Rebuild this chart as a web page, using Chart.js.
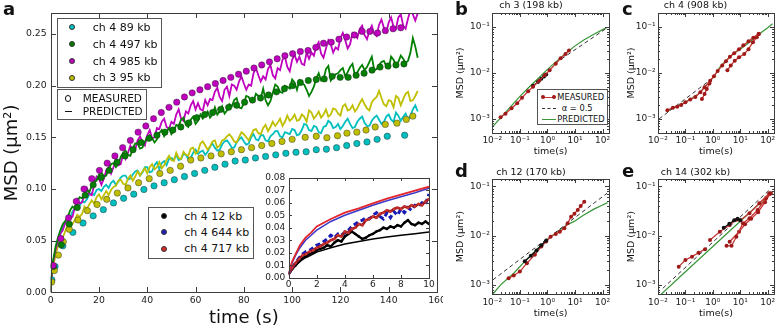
<!DOCTYPE html>
<html><head><meta charset="utf-8">
<script src="https://cdn.jsdelivr.net/npm/chart.js@4.4.1/dist/chart.umd.min.js"></script>
<style>
html,body{margin:0;padding:0;background:#fff;}
body{width:778px;height:328px;position:relative;overflow:hidden;font-family:"DejaVu Sans",sans-serif;color:#111;}
canvas{position:absolute;}
.box{position:absolute;border:1px solid #555;background:#fff;box-sizing:border-box;}
.t{position:absolute;white-space:nowrap;line-height:1;}
.dot{position:absolute;border-radius:50%;box-sizing:border-box;border:0.6px solid #333;}
.ln{position:absolute;height:0;}
.pl{position:absolute;font-weight:bold;font-size:18px;line-height:18px;}
</style></head><body>
<canvas id="cA" width="443" height="328" style="left:0;top:0"></canvas>
<canvas id="cIn" width="178" height="122" style="left:258px;top:170px"></canvas>
<canvas id="cB" width="161" height="160" style="left:452px;top:0"></canvas>
<canvas id="cC" width="161" height="160" style="left:617px;top:0"></canvas>
<canvas id="cD" width="161" height="168" style="left:452px;top:160px"></canvas>
<canvas id="cE" width="161" height="168" style="left:617px;top:160px"></canvas>

<div class="pl" style="left:3px;top:0">a</div>
<div class="pl" style="left:455px;top:0">b</div>
<div class="pl" style="left:622px;top:0">c</div>
<div class="pl" style="left:455px;top:162px">d</div>
<div class="pl" style="left:622px;top:162px">e</div>

<!-- legend 1 -->
<div class="box" style="left:56.7px;top:17.5px;width:105.6px;height:70px"></div>
<div class="dot" style="left:68.7px;top:24.3px;width:6px;height:6px;background:#00bfbf"></div>
<div class="dot" style="left:68.7px;top:41px;width:6px;height:6px;background:#008000"></div>
<div class="dot" style="left:68.7px;top:58px;width:6px;height:6px;background:#bf00bf"></div>
<div class="dot" style="left:68.7px;top:74.7px;width:6px;height:6px;background:#bfbf00"></div>
<div class="t" style="left:92.7px;top:22px;font-size:11px">ch 4 89 kb</div>
<div class="t" style="left:92.7px;top:38.7px;font-size:11px">ch 4 497 kb</div>
<div class="t" style="left:92.7px;top:55.7px;font-size:11px">ch 4 985 kb</div>
<div class="t" style="left:92.7px;top:72.4px;font-size:11px">ch 3 95 kb</div>
<!-- legend 2 -->
<div class="box" style="left:56.7px;top:89.3px;width:90.6px;height:31px"></div>
<div class="dot" style="left:64.7px;top:95.3px;width:6.5px;height:6.5px;border:1.1px solid #111;background:#fff"></div>
<div class="ln" style="left:64.5px;top:110.5px;width:7px;border-top:1.2px solid #111"></div>
<div class="t" style="left:82.7px;top:93.3px;font-size:10.5px">MEASURED</div>
<div class="t" style="left:82.7px;top:105.7px;font-size:10.5px">PREDICTED</div>
<!-- legend 3 -->
<div class="box" style="left:148.3px;top:206.7px;width:106px;height:52.6px"></div>
<div class="dot" style="left:161px;top:213px;width:6px;height:6px;background:#000"></div>
<div class="dot" style="left:161px;top:229.3px;width:6px;height:6px;background:#2020b8"></div>
<div class="dot" style="left:161px;top:245.7px;width:6px;height:6px;background:#d42a2a"></div>
<div class="t" style="left:184.3px;top:210.7px;font-size:11px">ch 4 12 kb</div>
<div class="t" style="left:184.3px;top:227px;font-size:11px">ch 4 644 kb</div>
<div class="t" style="left:184.3px;top:243.4px;font-size:11px">ch 4 717 kb</div>
<!-- legend b -->
<div class="box" style="left:536.7px;top:89.3px;width:71px;height:36px"></div>
<div class="ln" style="left:543.3px;top:96.7px;width:11px;border-top:1.2px solid rgb(200,55,55)"></div>
<div class="dot" style="left:541.3px;top:95.3px;width:4px;height:4px;border:none;background:rgb(165,25,25)"></div>
<div class="dot" style="left:552.3px;top:95.3px;width:4px;height:4px;border:none;background:rgb(165,25,25)"></div>
<div class="ln" style="left:542px;top:108px;width:14px;border-top:1px dashed #333"></div>
<div class="ln" style="left:542px;top:119px;width:14px;border-top:1.2px solid rgb(60,150,60)"></div>
<div class="t" style="left:557.3px;top:93.3px;font-size:8.3px">MEASURED</div>
<div class="t" style="left:561.7px;top:104.3px;font-size:8.3px">α = 0.5</div>
<div class="t" style="left:557.3px;top:115.3px;font-size:8.3px">PREDICTED</div>

<script>
// ---------- panel a : predicted (noisy) lines ----------
const predTime = [0,0.5,1,2,3,4,
 5,6,7,8,9,10,11,12,13,14,15,16,17,18,19,20,21,22,23,24,25,26,27,28,29,30,31,32,33,34,35,36,37,38,39,40,
 41,42,43,44,45,46,47,48,49,50,51,52,53,54,55,56,57,58,59,60,61,62,63,64,65,66,67,68,69,70,71,72,73,74,75,76,77,78,79,80,
 81,82,83,84,85,86,87,88,89,90,91,92,93,94,95,96,97,98,99,100,101,102,103,104,105,106,107,108,109,110,111,112,113,114,115,116,117,118,119,120,
 121,122,123,124,125,126,127,128,129,130,131,132,133,134,135,136,137,138,139,140,141,142,143,144,145,146,147,148,149,150,151,152];
const predMagenta = [0,0.020,0.029,0.041,0.050,0.057,
 .060,.067,.074,.072,.073,.082,.090,.086,.087,.095, .101,.095,.094,.104,.112,.110,.104,.110,.118,.121,
 .115,.121,.129,.123,.124,.134,.129,.135,.142,.136, .138,.147,.151,.145,.142,.152,.157,.149,.150,.159,
 .158,.165,.168,.160,.158,.165,.163,.172,.177,.168, .166,.175,.173,.181,.185,.177,.183,.177,.176,.186,
 .181,.187,.186,.194,.198,.189,.185,.196,.199,.190, .201,.200,.196,.204,.209,.202,.196,.201,.200,.212,
 .217,.210,.204,.209,.206,.216,.220,.210,.207,.217, .215,.225,.228,.218,.214,.225,.230,.223,.228,.221,
 .220,.232,.226,.232,.229,.238,.242,.231,.227,.236, .244,.240,.232,.237,.235,.246,.251,.244,.236,.240,
 .251,.249,.246,.255,.258,.249,.245,.253,.258,.250, .248,.259,.264,.256,.252,.261,.266,.257,.255,.266,
 .269,.258,.255,.265,.273,.269,.263,.270];
const predGreen = [0,0.022,0.031,0.044,0.053,0.060,
 .066,.069,.072,.079,.083,.081,.088,.092,.091,.095, .099,.097,.103,.107,.108,.114,.116,.112,.113,.119,
 .124,.125,.121,.124,.131,.135,.137,.133,.132,.139, .144,.144,.139,.140,.146,.149,.152,.149,.145,.148,
 .154,.157,.151,.155,.159,.153,.156,.162,.161,.167, .169,.162,.160,.167,.170,.163,.166,.172,.168,.171,
 .175,.169,.172,.179,.172,.175,.180,.173,.176,.182, .180,.186,.188,.179,.178,.183,.190,.189,.184,.185,
 .192,.190,.188,.197,.186,.181,.185,.193,.201,.199, .194,.193,.200,.199,.197,.206,.203,.196,.205,.202,
 .201,.196,.190,.194,.199,.207,.212,.205,.206,.216, .219,.205,.208,.211,.212,.215,.217,.209,.213,.218,
 .221,.210,.213,.217,.220,.215,.218,.223,.228,.215, .216,.220,.223,.224,.219,.217,.228,.225,.220,.223,
 .229,.226,.222,.224,.232,.246,.238,.227];
const predCyan = [0,0.020,0.028,0.040,0.049,0.056,
 .063,.067,.068,.072,.078,.081,.085,.084,.088,.087, .090,.095,.096,.094,.099,.100,.098,.102,.104,.101,
 .106,.108,.104,.107,.111,.113,.113,.109,.110,.114, .117,.118,.113,.116,.121,.121,.116,.117,.123,.126,
 .119,.125,.127,.123,.129,.130,.128,.133,.128,.129, .134,.133,.129,.130,.135,.138,.134,.136,.137,.133,
 .136,.141,.144,.140,.137,.138,.143,.146,.147,.144, .140,.140,.145,.148,.150,.146,.143,.144,.150,.153,
 .148,.147,.152,.152,.147,.146,.151,.153,.156,.156, .151,.150,.155,.154,.153,.158,.157,.152,.153,.157,
 .163,.162,.157,.156,.161,.160,.155,.154,.160,.161, .166,.164,.159,.160,.163,.158,.161,.165,.168,.163,
 .159,.160,.165,.168,.170,.164,.161,.161,.166,.169, .171,.167,.163,.165,.170,.172,.167,.165,.174,.171,
 .166,.170,.173,.167,.171,.177,.181,.175];
const predYellow = [0,0.018,0.025,0.036,0.044,0.051,
 .053,.059,.065,.067,.066,.070,.075,.073,.076,.083, .081,.085,.089,.086,.092,.095,.090,.094,.098,.094,
 .099,.102,.103,.108,.109,.105,.104,.110,.113,.108, .112,.117,.113,.117,.120,.115,.121,.124,.119,.121,
 .126,.120,.123,.128,.132,.128,.127,.135,.130,.129, .136,.133,.132,.139,.140,.134,.136,.144,.146,.142,
 .138,.141,.146,.147,.140,.142,.147,.148,.151,.153, .150,.146,.145,.150,.155,.153,.150,.147,.152,.157,
 .158,.154,.153,.159,.162,.156,.160,.165,.161,.164, .168,.161,.165,.171,.166,.168,.172,.166,.167,.172,
 .170,.165,.176,.174,.168,.171,.175,.169,.172,.177, .170,.172,.178,.177,.173,.171,.180,.182,.176,.177,
 .181,.175,.178,.183,.187,.182,.178,.176,.184,.187, .189,.195,.188,.182,.180,.186,.185,.179,.190,.188,
 .181,.187,.192,.194,.185,.186,.190,.195];
// ---------- panel a : measured dots ----------
const magDotT = [1.0,4.2,7.4,10.6,13.8,17.0,20.2,23.4,26.6,29.8,33.0,36.2,39.4,42.6,45.8,49.0,52.2,55.4,58.6,61.8,65.0,68.2,71.4,74.6,77.8,81.0,84.2,87.4,90.6,93.8,97.0,100.2,103.4,106.6,109.8,113.0,116.2,119.4,122.6,125.8,129.0,132.2,135.4,138.6,141.8,145.0];
const magDotV = [0.026,0.052,0.072,0.088,0.100,0.110,0.118,0.125,0.132,0.140,0.147,0.155,0.161,0.168,0.174,0.179,0.184,0.189,0.193,0.196,0.199,0.202,0.205,0.208,0.211,0.214,0.217,0.220,0.223,0.226,0.229,0.231,0.233,0.234,0.237,0.241,0.242,0.245,0.247,0.249,0.2525,0.2525,0.251,0.2532,0.255,0.256];
const greenDotT = [1.1,4.4,7.7,11.0,14.3,17.6,20.9,24.2,27.5,30.8,34.1,37.4,40.7,44.0,47.3,50.6,53.9,57.2,60.5,63.8,67.1,70.4,73.7,77.0,80.3,83.6,86.9,90.2,93.5,96.8,100.1,103.4,106.7,110.0,113.3,116.6,119.9,123.2,126.5,129.8,133.1,136.4,139.7,143.0,146.3];
const greenDotV = [0.025,0.046,0.066,0.082,0.094,0.104,0.111,0.118,0.126,0.132,0.138,0.145,0.149,0.152,0.155,0.157,0.160,0.164,0.169,0.172,0.174,0.177,0.179,0.181,0.184,0.186,0.188,0.191,0.194,0.197,0.200,0.203,0.205,0.206,0.2065,0.209,0.208,0.208,0.210,0.212,0.215,0.218,0.219,0.220,0.221];
const cyanDotT = [0.5,1.8,5.0,9.2,13.4,17.6,21.8,26.0,30.2,34.4,38.6,42.8,47.0,51.2,55.4,59.6,63.8,68.0,72.2,76.4,80.6,84.8,89.0,93.2,97.4,101.6,105.8,110.0,114.2,118.4,122.6,126.8,131.0,135.2,139.4,146.6];
const cyanDotV = [0.012,0.025,0.045,0.058,0.067,0.074,0.080,0.0865,0.091,0.095,0.0995,0.103,0.106,0.109,0.112,0.115,0.118,0.121,0.124,0.127,0.128,0.130,0.1315,0.133,0.1345,0.1355,0.136,0.138,0.1385,0.140,0.142,0.144,0.1455,0.148,0.151,0.152];
const yellowDotT = [0.4,1.5,3.2,5.2,7.7,11.3,15.2,19.2,23.2,27.6,32.0,36.4,40.8,45.2,49.5,53.8,58.0,62.2,66.4,70.6,74.8,79.0,83.2,87.4,91.6,95.8,100.0,105.4,110.0,114.4,118.8,122.7,126.8,130.6,134.4,138.6,143.4,147.3,150.0];
const yellowDotV = [0.010,0.021,0.036,0.049,0.061,0.070,0.079,0.085,0.090,0.096,0.101,0.106,0.110,0.115,0.118,0.122,0.128,0.130,0.132,0.134,0.136,0.138,0.140,0.142,0.144,0.146,0.148,0.150,0.151,0.1496,0.1515,0.154,0.155,0.157,0.160,0.1625,0.1637,0.1673,0.1705];
const mainXTicks = [0,20,40,60,80,100,120,140,160];
const mainXLabels = ['0','20','40','60','80','100','120','140','160'];
const mainYTicks = [0,0.05,0.10,0.15,0.20,0.25];
const mainYLabels = ['0.00','0.05','0.10','0.15','0.20','0.25'];

// ---------- inset ----------
const insetT = [0,0.25,0.5,0.75,1,1.25,1.5,1.75,2,2.25,2.5,2.75,3,3.25,3.5,3.75,4,4.25,4.5,4.75,5,5.25,5.5,5.75,6,6.25,6.5,6.75,7,7.25,7.5,7.75,8,8.25,8.5,8.75,9,9.25,9.5,9.75,10];
const redMeas = [.003,.008,.012,.015,.018,.019,.021,.022,.024,.025,.027,.028,.030,.031,.034,.033,.037,.036,.039,.040,.043,.042,.046,.047,.049,.048,.051,.052,.054,.053,.055,.056,.055,.057,.056,.058,.057,.059,.058,.061,.063];
const blueMeas = [.003,.008,.012,.016,.019,.021,.022,.024,.026,.027,.029,.031,.034,.032,.035,.034,.036,.038,.041,.043,.045,.046,.048,.047,.050,.052,.049,.047,.052,.048,.053,.050,.055,.052,.056,.054,.058,.057,.060,.059,.067];
const blackMeas = [.003,.007,.010,.013,.016,.017,.019,.020,.022,.023,.024,.026,.025,.028,.030,.029,.033,.035,.037,.035,.033,.031,.032,.034,.035,.037,.038,.040,.039,.041,.040,.042,.041,.044,.046,.043,.042,.044,.043,.045,.043];
const insetPredT = [0,0.1,0.25,0.5,0.8,1.2,1.6,2,3,4,5,6,7,8,9,10];
const redPred = [0.003,0.008,0.013,0.019,0.026,0.032,0.036,0.041,0.047,0.052,0.0555,0.0595,0.0632,0.0665,0.0697,0.0728];
const bluePred = [0.003,0.007,0.012,0.018,0.024,0.030,0.034,0.038,0.045,0.050,0.054,0.058,0.0615,0.0648,0.068,0.0715];
const blackPred = [0.003,0.005,0.007,0.010,0.013,0.016,0.018,0.0205,0.024,0.027,0.029,0.031,0.0325,0.034,0.0352,0.0365];
const insetXTicks = [0,2,4,6,8,10];
const insetXLabels = ['0','2','4','6','8','10'];
const insetYTicks = [0,0.01,0.02,0.03,0.04,0.05,0.06,0.07,0.08];
const insetYLabels = ['0.00','0.01','0.02','0.03','0.04','0.05','0.06','0.07','0.08'];

// ---------- panels b-e (log-log) ----------
const logTicks = [0.001,0.01,0.1,1,10,100];
const logLabels = ['10⁻³','10⁻²','10⁻¹','10⁰','10¹','10²'];
const bMeasT = [0.02,0.03,0.05,0.08,0.12,0.2,0.3,0.5,0.8,1.2,2,3,4.5,6];
const bMeasV = [0.00108,0.0013,0.0017,0.0022,0.0029,0.0040,0.0050,0.0068,0.0090,0.0115,0.0160,0.0210,0.0260,0.0310];
const bBlackT = [0.3,0.45,0.6,0.75,0.9];
const bBlackV = [0.0053,0.0064,0.0075,0.0084,0.0093];
const bPredT = [0.01,0.02,0.05,0.1,0.2,0.5,1,2,5,10,20,50,100,145];
const bPredV = [0.00066,0.00105,0.00195,0.0031,0.0047,0.0080,0.0120,0.0175,0.0280,0.0390,0.0520,0.0710,0.0880,0.0980];
const bAlphaT = [2,130];
const bAlphaV = [0.0167,0.092];

const cMeasT = [0.022,0.035,0.05,0.07,0.1,0.15,0.23,0.35,0.5,0.8,1.1,1.5,2.2,3,4.2,6,9,13,20,30,47];
const cMeasV = [0.00155,0.00175,0.00185,0.0020,0.0023,0.00265,0.0030,0.0038,0.0049,0.0068,0.0085,0.0110,0.0145,0.0180,0.0225,0.0270,0.0330,0.0400,0.0490,0.0590,0.0720];
const cBr1T = [0.4,0.5,0.6,0.75];
const cBr1V = [0.0027,0.0035,0.0045,0.0059];
const cBr2T = [3.4,4.5,6.3,9,14,20,29,40,47];
const cBr2V = [0.0115,0.0145,0.0186,0.0220,0.0260,0.0330,0.0470,0.0600,0.0700];
const cPredT = [0.02,0.05,0.1,0.3,1,1.8,3,5,10,20,30,60,100,150];
const cPredV = [0.00145,0.0019,0.0023,0.0035,0.0078,0.0135,0.0185,0.025,0.033,0.045,0.055,0.077,0.097,0.118];
const cAlphaT = [0.011,1.0];
const cAlphaV = [0.0010,0.0078];

const dMeasT = [0.039,0.06,0.1,0.18,0.35,0.6,0.9,1.3,2,2.8,4.1,5.4,7.2,9.5,12.5,16,21.5];
const dMeasV = [0.00136,0.00155,0.00186,0.00275,0.0041,0.0060,0.0076,0.0095,0.0108,0.0120,0.0141,0.0178,0.0243,0.0280,0.0333,0.0400,0.0490];
const dBlackT = [0.15,0.25,0.4,0.6,0.9];
const dBlackV = [0.0030,0.0039,0.0050,0.0064,0.0080];
const dPredT = [0.0105,0.02,0.06,0.15,0.4,1,2.5,5,9.3,20,50,100,150];
const dPredV = [0.00065,0.0010,0.00172,0.0030,0.0052,0.0085,0.0125,0.0165,0.0195,0.026,0.035,0.042,0.047];
const dAlphaT = [0.0105,145];
const dAlphaV = [0.00126,0.073];

const eSeg1T = [0.057,0.1,0.174,0.3,0.52];
const eSeg1V = [0.00234,0.0032,0.00374,0.0045,0.0053];
const eMainT = [0.79,1.8,4.1,7.2,10,21.7,50,114];
const eMainV = [0.0082,0.012,0.0165,0.021,0.0205,0.0285,0.0457,0.073];
const eBlackT = [2.5,4,6,8,10];
const eBlackV = [0.0145,0.0175,0.0205,0.022,0.0205];
const eBr1T = [3.16,4.8,7.2,12.5,21.7,43,86,130];
const eBr1V = [0.0062,0.0062,0.0095,0.0179,0.0226,0.0333,0.0576,0.073];
const eBr2T = [4.1,9,15,25,45,80,120];
const eBr2V = [0.0075,0.012,0.017,0.022,0.030,0.048,0.070];
const ePredT = [0.01,0.1,1,10,100,150];
const ePredV = [0.00056,0.00184,0.0060,0.0196,0.064,0.078];
const eAlphaT = [0.015,130];
const eAlphaV = [0.00085,0.09];

// ---------- helpers ----------
Chart.defaults.font.family = "'DejaVu Sans'";
Chart.defaults.color = '#222';
function xy(xs, ys){ return xs.map((x,i)=>({x:x, y:ys[i]})); }
function minorLog(lo, hi){ const out=[]; for(let e=-5;e<=3;e++){ for(let m=2;m<=9;m++){ const v=m*Math.pow(10,e); if(v>lo*1.0001 && v<hi*0.9999) out.push(v);} } return out; }

const framePlugin = {
  id:'frame',
  beforeDraw(chart){
    const o = chart.options.plugins.frame; const a = chart.chartArea;
    if(o && o.fill){ const c=chart.ctx; c.save(); c.fillStyle='#fff'; c.fillRect(a.left,a.top,a.right-a.left,a.bottom-a.top); c.restore(); }
  },
  afterDraw(chart){
    const o = chart.options.plugins.frame; if(!o) return;
    const c = chart.ctx, a = chart.chartArea, xs = chart.scales.x, ys = chart.scales.y;
    c.save(); c.strokeStyle = '#3c3c3c'; c.lineWidth = 1; c.beginPath();
    const L = Math.round(a.left), R = Math.round(a.right), T = Math.round(a.top), B = Math.round(a.bottom);
    function xt(list, len){ list.forEach(v=>{ const p=Math.round(xs.getPixelForValue(v))+0.5; if(p<L+1||p>R-1) return; c.moveTo(p,B); c.lineTo(p,B-len); c.moveTo(p,T); c.lineTo(p,T+len); }); }
    function yt(list, len){ list.forEach(v=>{ const p=Math.round(ys.getPixelForValue(v))+0.5; if(p<T+1||p>B-1) return; c.moveTo(L,p); c.lineTo(L+len,p); c.moveTo(R,p); c.lineTo(R-len,p); }); }
    xt(o.xMajor, o.major); yt(o.yMajor, o.major);
    if(o.xMinor) xt(o.xMinor, o.minor); if(o.yMinor) yt(o.yMinor, o.minor);
    c.stroke();
    c.strokeRect(L+0.5, T+0.5, R-L, B-T);
    c.restore();
  }
};

function lineDs(data, color, width, extra){ return Object.assign({data:data, showLine:true, borderColor:color, borderWidth:width, pointRadius:0, tension:0, fill:false}, extra||{}); }
function dotDs(data, color){ return {data:data, showLine:false, pointRadius:3.2, pointBackgroundColor:color, pointBorderColor:'rgba(40,40,40,0.75)', pointBorderWidth:0.6, backgroundColor:color, borderColor:'rgba(40,40,40,0.75)'}; }

// ---------- panel a ----------
new Chart(document.getElementById('cA'), {
  type:'scatter',
  data:{datasets:[
    dotDs(xy(magDotT, magDotV), '#bf00bf'),
    dotDs(xy(greenDotT, greenDotV), '#008000'),
    dotDs(xy(yellowDotT, yellowDotV), '#bfbf00'),
    dotDs(xy(cyanDotT, cyanDotV), '#00bfbf'),
    lineDs(xy(predTime, predGreen), '#008000', 1.8),
    lineDs(xy(predTime, predMagenta), '#bf00bf', 1.8),
    lineDs(xy(predTime, predYellow), '#bfbf00', 1.8),
    lineDs(xy(predTime, predCyan), '#00bfbf', 1.8)
  ]},
  options:{
    responsive:false, animation:false, events:[],
    layout:{padding:{left:0,right:6,top:13.3,bottom:0}},
    plugins:{legend:{display:false}, tooltip:{enabled:false},
      frame:{xMajor:mainXTicks, yMajor:mainYTicks, major:5}},
    scales:{
      x:{type:'linear', min:0, max:160, grid:{display:false,drawTicks:false}, border:{display:false},
        ticks:{font:{size:9.3}, padding:3, maxRotation:0, autoSkip:false, callback:(v,i)=>mainXLabels[i]},
        afterBuildTicks:s=>{ s.ticks = mainXTicks.map(v=>({value:v})); },
        afterFit:s=>{ s.height=35.7; s.paddingLeft=0; s.paddingRight=0; },
        title:{display:true, text:'time (s)', color:'#111', font:{size:18, lineHeight:1.1}, padding:{top:0,bottom:0.2}}},
      y:{type:'linear', min:0, max:0.27, grid:{display:false,drawTicks:false}, border:{display:false},
        ticks:{font:{size:9.3}, padding:4, autoSkip:false, callback:(v,i)=>mainYLabels[i]},
        afterBuildTicks:s=>{ s.ticks = mainYTicks.map(v=>({value:v})); },
        afterFit:s=>{ s.width=50.7; s.paddingTop=0; s.paddingBottom=0; },
        title:{display:true, text:'MSD (μm²)', color:'#111', font:{size:18, lineHeight:1.1}, padding:{top:2,bottom:0}}}
    }
  },
  plugins:[framePlugin]
});

// ---------- inset ----------
new Chart(document.getElementById('cIn'), {
  type:'scatter',
  data:{datasets:[
    lineDs(xy(insetPredT, redPred), '#e3262b', 1.8),
    lineDs(xy(insetPredT, bluePred), '#3a3ac8', 1.5),
    lineDs(xy(insetT, redMeas), '#a01e1e', 2.6, {pointRadius:1.3, pointBackgroundColor:'#d03232', pointBorderWidth:0}),
    lineDs(xy(insetT, blueMeas), '#1a1ab4', 3, {borderDash:[5,3]}),
    lineDs(xy(insetT, blackMeas), '#000', 2.4, {pointRadius:1.2, pointBackgroundColor:'#000', pointBorderWidth:0}),
    lineDs(xy(insetPredT, blackPred), '#000', 1.5)
  ]},
  options:{
    responsive:false, animation:false, events:[],
    layout:{padding:{left:0,right:7,top:7.7,bottom:0}},
    plugins:{legend:{display:false}, tooltip:{enabled:false},
      frame:{fill:true, xMajor:insetXTicks, yMajor:insetYTicks, major:3}},
    scales:{
      x:{type:'linear', min:0, max:10, grid:{display:false,drawTicks:false}, border:{display:false},
        ticks:{font:{size:9}, padding:2, maxRotation:0, autoSkip:false, callback:(v,i)=>insetXLabels[i]},
        afterBuildTicks:s=>{ s.ticks = insetXTicks.map(v=>({value:v})); },
        afterFit:s=>{ s.height=14.3; s.paddingLeft=0; s.paddingRight=0; }},
      y:{type:'linear', min:0, max:0.08, grid:{display:false,drawTicks:false}, border:{display:false},
        ticks:{font:{size:9}, padding:3.5, autoSkip:false, callback:(v,i)=>insetYLabels[i]},
        afterBuildTicks:s=>{ s.ticks = insetYTicks.map(v=>({value:v})); },
        afterFit:s=>{ s.width=30.7; s.paddingTop=0; s.paddingBottom=0; }}
    }
  },
  plugins:[framePlugin]
});

// ---------- log panels ----------
const RED_L = 'rgb(200,55,55)', RED_P = 'rgb(160,25,25)', GRN = 'rgb(55,150,55)';
function measDs(t, v, color, pcolor){ return lineDs(xy(t, v), color||RED_L, 1.3, {pointRadius:2, pointBackgroundColor:pcolor||RED_P, pointBorderWidth:0}); }
function logPanel(id, title, datasets, geo){
  const xMin=0.01, xMax=170;
  new Chart(document.getElementById(id), {
    type:'scatter',
    data:{datasets:datasets},
    options:{
      responsive:false, animation:false, events:[],
      layout:{padding:{left:0,right:geo.padR,top:0,bottom:0}},
      plugins:{legend:{display:false}, tooltip:{enabled:false},
        title:{display:true, text:title, color:'#111', font:{size:9.5, weight:'normal', lineHeight:1.2}, padding:{top:geo.tTop, bottom:geo.tBot}},
        frame:{xMajor:logTicks.filter(v=>v>=xMin&&v<=xMax), yMajor:logTicks.filter(v=>v>=geo.yMin&&v<=geo.yMax),
               xMinor:minorLog(xMin,xMax), yMinor:minorLog(geo.yMin,geo.yMax), major:4, minor:2}},
      scales:{
        x:{type:'logarithmic', min:xMin, max:xMax, grid:{display:false,drawTicks:false}, border:{display:false},
          ticks:{font:{size:9}, padding:3, maxRotation:0, autoSkip:false, callback:(v)=>{const k=logTicks.indexOf(v); return k<0?'':logLabels[k];}},
          afterBuildTicks:s=>{ s.ticks = logTicks.filter(v=>v>=xMin&&v<=xMax).map(v=>({value:v})); },
          afterFit:s=>{ s.height=geo.xH; s.paddingLeft=0; s.paddingRight=0; },
          title:{display:true, text:'time(s)', color:'#111', font:{size:9.5, lineHeight:1.2}, padding:{top:0,bottom:geo.xtPad}}},
        y:{type:'logarithmic', min:geo.yMin, max:geo.yMax, grid:{display:false,drawTicks:false}, border:{display:false},
          ticks:{font:{size:9}, padding:2.5, autoSkip:false, callback:(v)=>{const k=logTicks.indexOf(v); return k<0?'':logLabels[k];}},
          afterBuildTicks:s=>{ s.ticks = logTicks.filter(v=>v>=geo.yMin&&v<=geo.yMax).map(v=>({value:v})); },
          afterFit:s=>{ s.width=geo.yW; s.paddingTop=0; s.paddingBottom=0; },
          title:{display:true, text:'MSD (μm²)', color:'#111', font:{size:9.5, lineHeight:1.2}, padding:{top:geo.ytPad,bottom:0}}}
      }
    },
    plugins:[framePlugin]
  });
}
const alphaStyle = {borderDash:[4,3]};
logPanel('cB', 'ch 3 (198 kb)', [
  measDs(bMeasT, bMeasV),
  measDs(bBlackT, bBlackV, '#111', '#111'),
  lineDs(xy(bAlphaT, bAlphaV), '#333', 1, alphaStyle),
  lineDs(xy(bPredT, bPredV), GRN, 1.2)
], {padR:3, tTop:0, tBot:1.9, xH:27.3, xtPad:2.8, yW:40.3, ytPad:3.3, yMin:5e-4, yMax:0.2});
logPanel('cC', 'ch 4 (908 kb)', [
  measDs(cMeasT, cMeasV),
  measDs(cBr1T, cBr1V),
  measDs(cBr2T, cBr2V),
  lineDs(xy(cAlphaT, cAlphaV), '#333', 1, alphaStyle),
  lineDs(xy(cPredT, cPredV), GRN, 1.2)
], {padR:4, tTop:0, tBot:1.9, xH:27.3, xtPad:2.8, yW:41, ytPad:8.8, yMin:5e-4, yMax:0.2});
logPanel('cD', 'ch 12 (170 kb)', [
  measDs(dBlackT, dBlackV, '#111', '#111'),
  measDs(dMeasT, dMeasV),
  lineDs(xy(dAlphaT, dAlphaV), '#333', 1, alphaStyle),
  lineDs(xy(dPredT, dPredV), GRN, 1.2)
], {padR:3, tTop:7, tBot:0.9, xH:34, xtPad:8.3, yW:40.3, ytPad:3.3, yMin:6.5e-4, yMax:0.14});
logPanel('cE', 'ch 14 (302 kb)', [
  measDs(eSeg1T, eSeg1V),
  measDs(eBlackT, eBlackV, '#111', '#111'),
  measDs(eMainT, eMainV),
  measDs(eBr1T, eBr1V),
  measDs(eBr2T, eBr2V),
  lineDs(xy(eAlphaT, eAlphaV), '#333', 1, alphaStyle),
  lineDs(xy(ePredT, ePredV), GRN, 1.2)
], {padR:4, tTop:7, tBot:0.9, xH:34, xtPad:8.3, yW:41, ytPad:8.8, yMin:6.5e-4, yMax:0.14});
</script>
</body></html>
